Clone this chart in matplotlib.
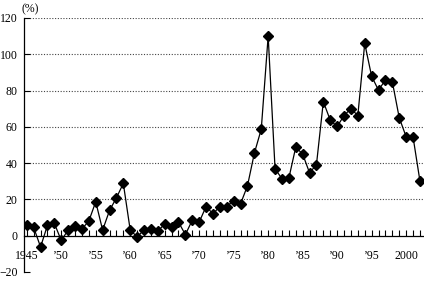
import matplotlib.pyplot as plt
from matplotlib.ticker import MultipleLocator

# year-on-year values (%)
years = list(range(1945, 2003))
values = [
    5.7, 4.6, -6.2, 5.7, 6.8, -2.6, 3.1, 5.3, 3.7, 8.1,
    18.7, 3.1, 13.9, 20.9, 28.8, 3.1, -0.6, 3.1, 3.7, 2.6,
    6.4, 4.8, 7.5, 0.6, 8.6, 7.5, 16.1, 12.1, 16.1, 16.1,
    19.4, 17.6, 27.5, 45.5, 58.7, 110.0, 36.9, 31.4, 31.7, 48.8,
    45.0, 34.7, 39.1, 73.9, 63.7, 60.2, 66.2, 70.1, 66.2, 106.0,
    87.9, 80.2, 85.9, 84.9, 65.1, 54.6, 54.6, 30.3,
]
label_years = [1945, 1950, 1955, 1960, 1965, 1970, 1975, 1980, 1985, 1990, 1995, 2000]
label_texts = ["1945", "\u201950", "\u201955", "\u201960", "\u201965", "\u201970",
               "\u201975", "\u201980", "\u201985", "\u201990", "\u201995", "2000"]
y_ticks = [-20, 0, 20, 40, 60, 80, 100, 120]

plt.rcParams['font.family'] = ['Liberation Serif', 'DejaVu Serif']
FS = 8.5

fig = plt.figure(figsize=(4.24, 2.81), dpi=100)
ax = fig.add_axes([24 / 424, 9 / 281, 399 / 424, 254 / 281])

ax.plot(years, values, "-", color="black", linewidth=0.9,
        marker="D", markersize=5, markerfacecolor="black", markeredgecolor="black")

ax.set_xlim(1944.6, 2002.45)
ax.set_ylim(-20, 120)

## dotted grid lines above zero only
for y in y_ticks:
    if y > 0:
        ax.axhline(y, color="#444444", linestyle=(0, (1, 1.5)), linewidth=0.8, zorder=0)

ax.spines["top"].set_visible(False)
ax.spines["right"].set_visible(False)
ax.spines["bottom"].set_position(("data", 0))
ax.spines["left"].set_linewidth(0.9)
ax.spines["bottom"].set_linewidth(0.9)

ax.set_yticks(y_ticks)
ax.set_yticklabels([str(v) if v >= 0 else "\u221220" for v in y_ticks], fontsize=FS)
ax.tick_params(axis="y", direction="in", length=4, width=0.8, pad=4.5)

ax.set_xticks(label_years)
ax.set_xticklabels(label_texts, fontsize=FS)
ax.xaxis.set_minor_locator(MultipleLocator(1))
ax.tick_params(axis="x", which="both", direction="in", length=4.5, width=0.8, pad=10)

fig.text(30 / 424, 1 - 9 / 281, "(%)", fontsize=FS, ha="center", va="center")

fig.savefig("out.png", dpi=100)
